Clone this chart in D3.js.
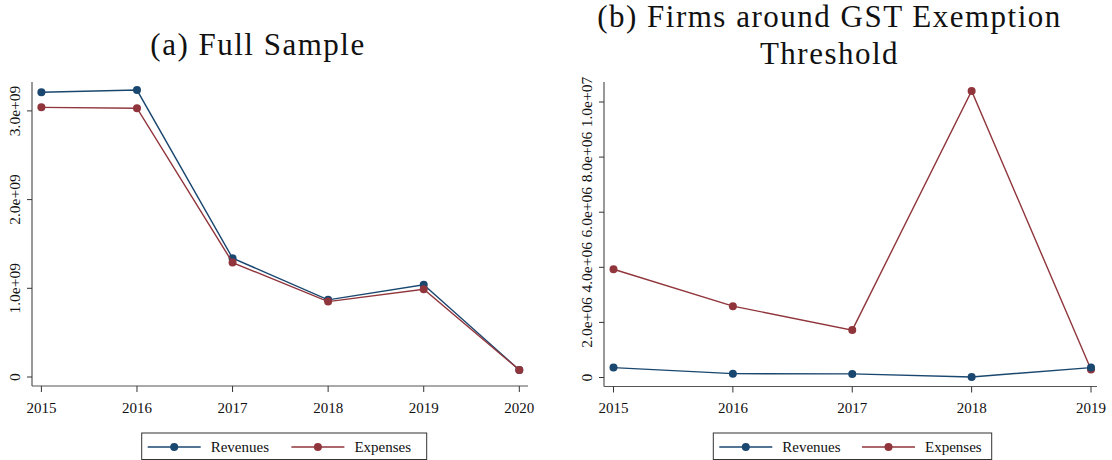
<!DOCTYPE html>
<html>
<head>
<meta charset="utf-8">
<script src="https://cdn.jsdelivr.net/npm/d3@7"></script>
<style>
  body { margin: 0; background: #fff; }
  text { font-family: "Liberation Serif", "DejaVu Serif", serif; fill: #111; }
</style>
</head>
<body>
<svg id="chart" width="1112" height="460"></svg>
<script>
// panel (a) full sample
var yearsA = [2015, 2016, 2017, 2018, 2019, 2020]
var revenuesA = [3.21e9, 3.235e9, 1.34e9, 0.87e9, 1.04e9, 0.08e9]
var expensesA = [3.04e9, 3.03e9, 1.29e9, 0.85e9, 0.99e9, 0.08e9]
var ticksA = [0, 1e9, 2e9, 3e9]
var tickLabelsA = ["0", "1.0e+09", "2.0e+09", "3.0e+09"]

// panel (b) firms around threshold
var yearsB = [2015, 2016, 2017, 2018, 2019]
var revenuesB = [0.36e6, 0.14e6, 0.13e6, 0.02e6, 0.36e6]
var expensesB = [3.93e6, 2.59e6, 1.72e6, 10.40e6, 0.29e6]
var ticksB = [0, 2e6, 4e6, 6e6, 8e6, 1e7]
var tickLabelsB = ["0", "2.0e+06", "4.0e+06", "6.0e+06", "8.0e+06", "1.0e+07"]

var seriesNames = ["Revenues", "Expenses"]
var navy = "#1a476f", maroon = "#90353b"

var svg = d3.select("#chart")

function drawPanel(cfg) {
  var g = svg.append("g")
  var x = d3.scaleLinear().domain(d3.extent(cfg.years)).range(cfg.xRange)
  var y = d3.scaleLinear().domain([0, cfg.ticks[1]]).range([cfg.zeroY, cfg.zeroY - cfg.tickStep])

  // axes
  g.append("line").attr("x1", cfg.axisX).attr("x2", cfg.axisX)
    .attr("y1", cfg.top).attr("y2", cfg.bottom).attr("stroke", "#555").attr("stroke-width", 1.2)
  g.append("line").attr("x1", cfg.axisX).attr("x2", cfg.xEnd)
    .attr("y1", cfg.bottom).attr("y2", cfg.bottom).attr("stroke", "#555").attr("stroke-width", 1.2)

  cfg.ticks.forEach(function (t, i) {
    var yy = y(t)
    g.append("line").attr("x1", cfg.axisX - 5).attr("x2", cfg.axisX)
      .attr("y1", yy).attr("y2", yy).attr("stroke", "#333")
    g.append("text")
      .attr("transform", "translate(" + (cfg.axisX - 12) + "," + yy + ") rotate(-90)")
      .attr("text-anchor", "middle")
      .attr("font-size", 15.5)
      .text(cfg.tickLabels[i])
  })

  cfg.years.forEach(function (yr) {
    var xx = x(yr)
    g.append("line").attr("x1", xx).attr("x2", xx)
      .attr("y1", cfg.bottom).attr("y2", cfg.bottom + 6).attr("stroke", "#333")
    g.append("text").attr("x", xx).attr("y", 412.5)
      .attr("text-anchor", "middle").attr("font-size", 15).text(yr)
  })

  var line = d3.line()
    .x(function (d, i) { return x(cfg.years[i]) })
    .y(function (d) { return y(d) })

  var data = [[cfg.revenues, navy], [cfg.expenses, maroon]]
  if (cfg.expensesFirst) data.reverse()
  data.forEach(function (s) {
    g.append("path").attr("d", line(s[0])).attr("fill", "none")
      .attr("stroke", s[1]).attr("stroke-width", 1.4)
    g.selectAll(null).data(s[0]).enter().append("circle")
      .attr("cx", function (d, i) { return x(cfg.years[i]) })
      .attr("cy", function (d) { return y(d) })
      .attr("r", 4).attr("fill", s[1])
  })

  // title
  cfg.title.forEach(function (t, i) {
    g.append("text").attr("x", cfg.titleX).attr("y", cfg.titleY + i * 36.5)
      .attr("text-anchor", "middle").attr("font-size", 31)
      .attr("letter-spacing", 1.5).text(t)
  })

  // legend
  var L = cfg.legend
  g.append("rect").attr("x", L.x).attr("y", 433).attr("width", L.w).attr("height", 26.5)
    .attr("fill", "none").attr("stroke", "#333").attr("stroke-width", 1)
  var colors = [navy, maroon]
  seriesNames.forEach(function (name, i) {
    var lx = L.x + 6 + i * L.gap
    g.append("line").attr("x1", lx).attr("x2", lx + 53).attr("y1", 447).attr("y2", 447)
      .attr("stroke", colors[i]).attr("stroke-width", 1.4)
    g.append("circle").attr("cx", lx + 26.5).attr("cy", 447).attr("r", 4).attr("fill", colors[i])
    g.append("text").attr("x", lx + 63).attr("y", 451.5).attr("font-size", 15).text(name)
  })
}

drawPanel({
  years: yearsA, revenues: revenuesA, expenses: expensesA,
  ticks: ticksA, tickLabels: tickLabelsA,
  xRange: [41.4, 519.3], zeroY: 377, tickStep: 88.7,
  axisX: 32, xEnd: 528, top: 82, bottom: 386,
  title: ["(a) Full Sample"], titleX: 258, titleY: 55,
  legend: { x: 141.7, w: 285, gap: 143.7 }
})

drawPanel({
  years: yearsB, revenues: revenuesB, expenses: expensesB,
  ticks: ticksB, tickLabels: tickLabelsB,
  xRange: [613.5, 1091], zeroY: 377.5, tickStep: 55.1,
  axisX: 604, xEnd: 1097, top: 82, bottom: 386.5,
  title: ["(b) Firms around GST Exemption", "Threshold"], titleX: 829.5, titleY: 27,
  legend: { x: 713.3, w: 278.4, gap: 142.7 },
  expensesFirst: true
})
</script>
</body>
</html>
